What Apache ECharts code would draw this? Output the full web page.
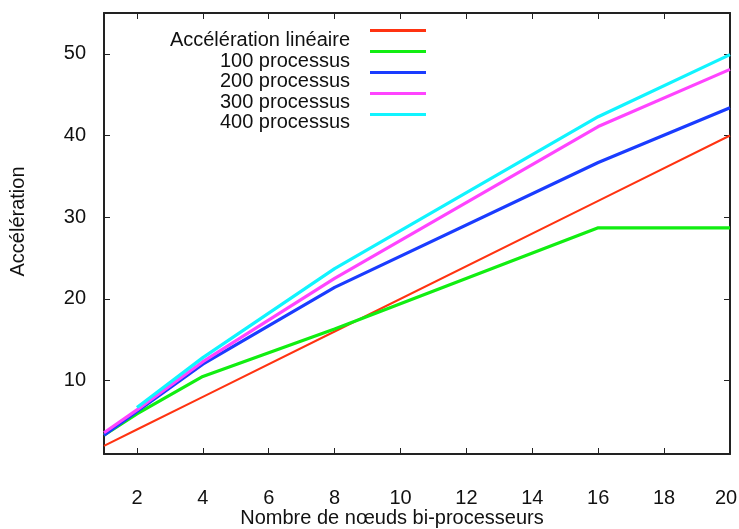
<!DOCTYPE html>
<html>
<head>
<meta charset="utf-8">
<script src="https://cdn.jsdelivr.net/npm/echarts@6/dist/echarts.min.js"></script>
<style>
  html, body { margin: 0; padding: 0; background: #fff; }
  #chart { width: 739px; height: 529px; }
</style>
</head>
<body>
<div id="chart"></div>
<script>
// Speed-up versus number of dual-processor nodes
const nodes = [1, 2, 4, 8, 16, 20];
const lineaire = [2, 4, 8, 16, 32, 40];
const proc100 = [3.3, 5.9, 10.5, 16.3, 28.7, 28.7];
const proc200 = [3.3, 6.2, 12.0, 21.4, 36.7, 43.4];
const proc300 = [3.6, 6.4, 12.3, 22.5, 41.1, 48.1];
const proc400 = [null, 6.7, 12.8, 23.7, 42.3, 49.9];

const xTicks = [2, 4, 6, 8, 10, 12, 14, 16, 18, 20];
const yTicks = [10, 20, 30, 40, 50];

const seriesDefs = [
  { name: 'Accélération linéaire', data: lineaire, color: '#ff3311', width: 2 },
  { name: '100 processus', data: proc100, color: '#11ee11', width: 3.2 },
  { name: '200 processus', data: proc200, color: '#1a3cff', width: 3.2 },
  { name: '300 processus', data: proc300, color: '#ff44ff', width: 3.2 },
  { name: '400 processus', data: proc400, color: '#11f4ff', width: 3.2 }
];

const font = 'Liberation Sans, Arial, Helvetica, sans-serif';
const fontSize = 20;
const axisColor = '#222';

const chart = echarts.init(document.getElementById('chart'), null, { renderer: 'canvas' });

function pairs(ys) {
  return nodes.map((x, i) => [x, ys[i]]).filter(p => p[1] !== null);
}

const xMax = xTicks[xTicks.length - 1];

const option = {
  animation: false,
  backgroundColor: '#fff',
  grid: { left: 104, right: 9, top: 13, bottom: 75, containLabel: false, outerBoundsMode: 'none' },
  legend: [
    // key samples: short coloured strokes
    {
      left: 370,
      top: 29,
      padding: 0,
      orient: 'vertical',
      icon: 'rect',
      itemWidth: 56,
      itemHeight: 3,
      itemGap: 18,
      selectedMode: false,
      formatter: () => '',
      textStyle: { fontSize: 1 },
      data: seriesDefs.map(s => s.name)
    },
    // key labels, right-aligned, set slightly below their strokes
    {
      right: 384,
      top: 30,
      padding: 0,
      orient: 'vertical',
      align: 'right',
      icon: 'none',
      itemWidth: 0,
      itemHeight: 21,
      itemGap: 0,
      selectedMode: false,
      textStyle: { fontFamily: font, fontSize: fontSize, color: '#111' },
      data: seriesDefs.map(s => s.name)
    }
  ],
  xAxis: [
    {
      type: 'value',
      min: 1,
      max: 20,
      name: 'Nombre de nœuds bi-processeurs',
      nameLocation: 'middle',
      nameGap: 54,
      nameMoveOverlap: false,
      nameTextStyle: { fontFamily: font, fontSize: fontSize, color: '#111', padding: [0, 50, 0, 0] },
      axisLine: { show: true, onZero: false, lineStyle: { color: axisColor, width: 2 } },
      axisTick: { show: true, inside: true, length: 6, customValues: xTicks, lineStyle: { color: axisColor, width: 1 } },
      axisLabel: {
        customValues: xTicks,
        margin: 34,
        fontFamily: font,
        fontSize: fontSize,
        color: '#111',
        // keep the last label mostly inside the canvas
        formatter: v => (v === xMax ? '{edge|' + v + '}' : String(v)),
        rich: { edge: { fontFamily: font, fontSize: fontSize, color: '#111', padding: [0, 8, 0, 0] } }
      },
      splitLine: { show: false }
    },
    {
      type: 'value',
      position: 'top',
      min: 1,
      max: 20,
      axisLine: { show: true, onZero: false, lineStyle: { color: axisColor, width: 2 } },
      axisTick: { show: true, inside: true, length: 6, customValues: xTicks, lineStyle: { color: axisColor, width: 1 } },
      axisLabel: { show: false },
      splitLine: { show: false }
    }
  ],
  yAxis: [
    {
      type: 'value',
      min: 1,
      max: 55,
      name: 'Accélération',
      nameLocation: 'middle',
      nameGap: 76,
      nameMoveOverlap: false,
      nameTextStyle: { fontFamily: font, fontSize: fontSize, color: '#111', padding: [0, 0, 0, 24] },
      axisLine: { show: true, onZero: false, lineStyle: { color: axisColor, width: 2 } },
      axisTick: { show: true, inside: true, length: 6, customValues: yTicks, lineStyle: { color: axisColor, width: 1 } },
      axisLabel: { customValues: yTicks, margin: 18, fontFamily: font, fontSize: fontSize, color: '#111' },
      splitLine: { show: false }
    },
    {
      type: 'value',
      position: 'right',
      min: 1,
      max: 55,
      axisLine: { show: true, onZero: false, lineStyle: { color: axisColor, width: 2 } },
      axisTick: { show: true, inside: true, length: 6, customValues: yTicks, lineStyle: { color: axisColor, width: 1 } },
      axisLabel: { show: false },
      splitLine: { show: false }
    }
  ],
  series: seriesDefs.map(s => ({
    name: s.name,
    type: 'line',
    xAxisIndex: 0,
    yAxisIndex: 0,
    data: pairs(s.data),
    symbol: 'none',
    showSymbol: false,
    color: s.color,
    lineStyle: { color: s.color, width: s.width },
    itemStyle: { color: s.color }
  }))
};

chart.setOption(option);
</script>
</body>
</html>
